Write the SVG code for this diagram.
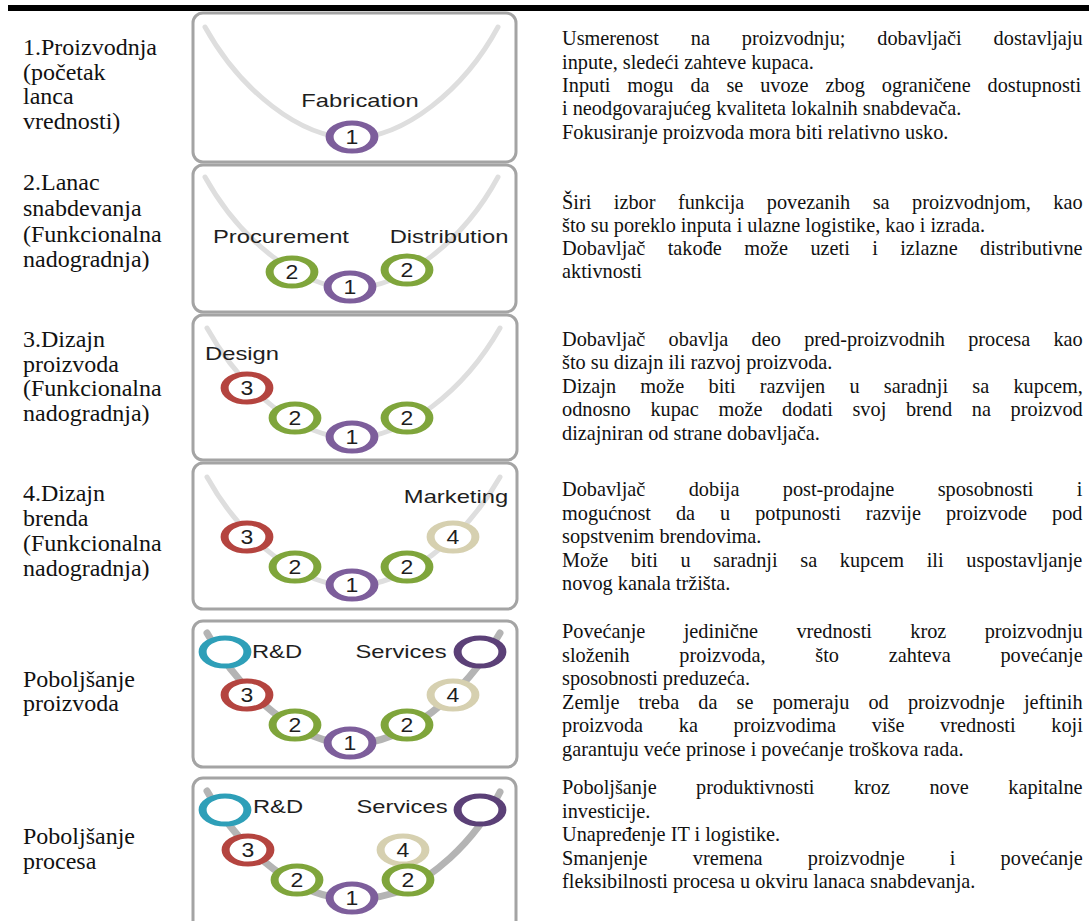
<svg xmlns="http://www.w3.org/2000/svg" xmlns:xlink="http://www.w3.org/1999/xlink" width="1089" height="921" viewBox="0 0 1089 921">
<style>
.lt{font-family:"Liberation Serif","Times New Roman",serif;font-size:24px;fill:#111}
.rt{font-family:"Liberation Serif","Times New Roman",serif;font-size:20.3px;fill:#111}
.lab{font-family:"Liberation Sans",Arial,Helvetica,sans-serif;font-size:19px;fill:#1e1e1e;text-anchor:middle}
.dg{font-family:"Liberation Sans",Arial,Helvetica,sans-serif;font-size:20px;fill:#1e1e1e;text-anchor:middle}
.panel{fill:#fff;stroke:#a4a4a4;stroke-width:3}
.cl{fill:none;stroke:#dedede;stroke-width:5;stroke-linecap:round}
.cd{fill:none;stroke:#b4b4b4;stroke-width:7;stroke-linecap:round}
.c1{stroke:#7d5e9b}.c2{stroke:#7fa53b}.c3{stroke:#b4443f}.c4{stroke:#d6d0b0}.c5{stroke:#2e9fb8}.c6{stroke:#5b4077}
</style>
<defs>
<circle id="ring" r="14" fill="#fff" stroke-width="5"/>
</defs>
<rect x="8" y="5" width="1081" height="6" fill="#000"/>

<g id="row1">
<text class="lt"><tspan x="23" y="55">1.Proizvodnja</tspan><tspan x="23" y="80">(početak</tspan><tspan x="23" y="104">lanca</tspan><tspan x="23" y="129">vrednosti)</tspan></text>
<g id="panel1">
<rect class="panel" x="193" y="13" width="323" height="149" rx="10"/>
<path class="cl" d="M205,27 C240,90 300,138 352,138 C404,138 464,90 498,27"/>
<text class="lab" transform="translate(360,107) scale(1.25,1)">Fabrication</text>
<use href="#ring" class="c1" transform="translate(352,137) scale(1.6,1)"/>
<text class="dg" transform="translate(352,144) scale(1.15,1)">1</text>
</g>
<text class="rt"><tspan x="562" y="45" word-spacing="26.8">Usmerenost na proizvodnju; dobavljači dostavljaju</tspan><tspan x="562" y="68.5">inpute, sledeći zahteve kupaca.</tspan><tspan x="562" y="92" word-spacing="11.8">Inputi mogu da se uvoze zbog ograničene dostupnosti</tspan><tspan x="562" y="115">i neodgovarajućeg kvaliteta lokalnih snabdevača.</tspan><tspan x="562" y="138.5">Fokusiranje proizvoda mora biti relativno usko.</tspan></text>
</g>

<g id="row2">
<text class="lt"><tspan x="23" y="190">2.Lanac</tspan><tspan x="23" y="216">snabdevanja</tspan><tspan x="23" y="242">(Funkcionalna</tspan><tspan x="23" y="267">nadogradnja)</tspan></text>
<g id="panel2">
<rect class="panel" x="193" y="165" width="323" height="147" rx="10"/>
<path class="cl" d="M205,177 C240,240 300,288 352,288 C404,288 464,240 498,177"/>
<text class="lab" transform="translate(281,243) scale(1.25,1)">Procurement</text>
<text class="lab" transform="translate(449,243) scale(1.25,1)">Distribution</text>
<use href="#ring" class="c2" transform="translate(292,272) scale(1.6,1)"/>
<text class="dg" transform="translate(292,279) scale(1.15,1)">2</text>
<use href="#ring" class="c2" transform="translate(407,270) scale(1.6,1)"/>
<text class="dg" transform="translate(407,277) scale(1.15,1)">2</text>
<use href="#ring" class="c1" transform="translate(350,287) scale(1.6,1)"/>
<text class="dg" transform="translate(350,294) scale(1.15,1)">1</text>
</g>
<text class="rt"><tspan x="562" y="209" word-spacing="17.4">Širi izbor funkcija povezanih sa proizvodnjom, kao</tspan><tspan x="562" y="232">što su poreklo inputa i ulazne logistike, kao i izrada.</tspan><tspan x="562" y="255" word-spacing="17.3">Dobavljač takođe može uzeti i izlazne distributivne</tspan><tspan x="562" y="278">aktivnosti</tspan></text>
</g>

<g id="row3">
<text class="lt"><tspan x="23" y="347">3.Dizajn</tspan><tspan x="23" y="372">proizvoda</tspan><tspan x="23" y="396">(Funkcionalna</tspan><tspan x="23" y="421">nadogradnja)</tspan></text>
<g id="panel3">
<rect class="panel" x="193" y="315" width="324" height="145" rx="10"/>
<path class="cl" d="M207,328 C242,391 300,438 352,438 C404,438 464,391 500,328"/>
<text class="lab" transform="translate(242,360) scale(1.25,1)">Design</text>
<use href="#ring" class="c3" transform="translate(247,388) scale(1.6,1)"/>
<text class="dg" transform="translate(247,395) scale(1.15,1)">3</text>
<use href="#ring" class="c2" transform="translate(295,418) scale(1.6,1)"/>
<text class="dg" transform="translate(295,425) scale(1.15,1)">2</text>
<use href="#ring" class="c2" transform="translate(407,418) scale(1.6,1)"/>
<text class="dg" transform="translate(407,425) scale(1.15,1)">2</text>
<use href="#ring" class="c1" transform="translate(352,437) scale(1.6,1)"/>
<text class="dg" transform="translate(352,444) scale(1.15,1)">1</text>
</g>
<text class="rt"><tspan x="562" y="345.5" word-spacing="18.2">Dobavljač obavlja deo pred-proizvodnih procesa kao</tspan><tspan x="562" y="369">što su dizajn ili razvoj proizvoda.</tspan><tspan x="562" y="392.5" word-spacing="19.2">Dizajn može biti razvijen u saradnji sa kupcem,</tspan><tspan x="562" y="416" word-spacing="14.6">odnosno kupac može dodati svoj brend na proizvod</tspan><tspan x="562" y="439.5">dizajniran od strane dobavljača.</tspan></text>
</g>

<g id="row4">
<text class="lt"><tspan x="23" y="501">4.Dizajn</tspan><tspan x="23" y="526">brenda</tspan><tspan x="23" y="551">(Funkcionalna</tspan><tspan x="23" y="576">nadogradnja)</tspan></text>
<g id="panel4">
<rect class="panel" x="193" y="463" width="324" height="146" rx="10"/>
<path class="cl" d="M207,477 C242,540 300,586 352,586 C404,586 464,540 500,477"/>
<text class="lab" transform="translate(456,503) scale(1.25,1)">Marketing</text>
<use href="#ring" class="c3" transform="translate(247,537) scale(1.6,1)"/>
<text class="dg" transform="translate(247,544) scale(1.15,1)">3</text>
<use href="#ring" class="c4" transform="translate(453,537) scale(1.6,1)"/>
<text class="dg" transform="translate(453,544) scale(1.15,1)">4</text>
<use href="#ring" class="c2" transform="translate(295,567) scale(1.6,1)"/>
<text class="dg" transform="translate(295,574) scale(1.15,1)">2</text>
<use href="#ring" class="c2" transform="translate(407,567) scale(1.6,1)"/>
<text class="dg" transform="translate(407,574) scale(1.15,1)">2</text>
<use href="#ring" class="c1" transform="translate(352,585) scale(1.6,1)"/>
<text class="dg" transform="translate(352,592) scale(1.15,1)">1</text>
</g>
<text class="rt"><tspan x="562" y="496" word-spacing="38.3">Dobavljač dobija post-prodajne sposobnosti i</tspan><tspan x="562" y="519.5" word-spacing="19.9">mogućnost da u potpunosti razvije proizvode pod</tspan><tspan x="562" y="543">sopstvenim brendovima.</tspan><tspan x="562" y="566.5" word-spacing="17.6">Može biti u saradnji sa kupcem ili uspostavljanje</tspan><tspan x="562" y="590">novog kanala tržišta.</tspan></text>
</g>

<g id="row5">
<text class="lt"><tspan x="23" y="687">Poboljšanje</tspan><tspan x="23" y="711">proizvoda</tspan></text>
<g id="panel5">
<rect class="panel" x="193" y="621" width="324" height="146" rx="10"/>
<path class="cd" d="M207,633 C242,696 300,744 352,744 C404,744 464,696 500,633"/>
<text class="lab" transform="translate(277,658) scale(1.25,1)">R&amp;D</text>
<text class="lab" transform="translate(401,658) scale(1.25,1)">Services</text>
<use href="#ring" class="c5" transform="translate(225,652) scale(1.6,1)"/>
<use href="#ring" class="c6" transform="translate(480,652) scale(1.6,1)"/>
<use href="#ring" class="c3" transform="translate(247,695) scale(1.6,1)"/>
<text class="dg" transform="translate(247,702) scale(1.15,1)">3</text>
<use href="#ring" class="c4" transform="translate(453,695) scale(1.6,1)"/>
<text class="dg" transform="translate(453,702) scale(1.15,1)">4</text>
<use href="#ring" class="c2" transform="translate(295,725) scale(1.6,1)"/>
<text class="dg" transform="translate(295,732) scale(1.15,1)">2</text>
<use href="#ring" class="c2" transform="translate(407,725) scale(1.6,1)"/>
<text class="dg" transform="translate(407,732) scale(1.15,1)">2</text>
<use href="#ring" class="c1" transform="translate(350,743) scale(1.6,1)"/>
<text class="dg" transform="translate(350,750) scale(1.15,1)">1</text>
</g>
<text class="rt"><tspan x="562" y="638" word-spacing="33.3">Povećanje jedinične vrednosti kroz proizvodnju</tspan><tspan x="562" y="661.5" word-spacing="44.7">složenih proizvoda, što zahteva povećanje</tspan><tspan x="562" y="685">sposobnosti preduzeća.</tspan><tspan x="562" y="708.5" word-spacing="14.1">Zemlje treba da se pomeraju od proizvodnje jeftinih</tspan><tspan x="562" y="732" word-spacing="30.6">proizvoda ka proizvodima više vrednosti koji</tspan><tspan x="562" y="755.5">garantuju veće prinose i povećanje troškova rada.</tspan></text>
</g>

<g id="row6">
<text class="lt"><tspan x="23" y="844">Poboljšanje</tspan><tspan x="23" y="869">procesa</tspan></text>
<g id="panel6">
<rect class="panel" x="193" y="778" width="323" height="160" rx="10"/>
<path class="cd" d="M207,791 C242,854 300,899 352,899 C395,899 420,885 450,858 C475,835 490,812 500,792"/>
<text class="lab" transform="translate(278,813) scale(1.25,1)">R&amp;D</text>
<text class="lab" transform="translate(402,813) scale(1.25,1)">Services</text>
<use href="#ring" class="c5" transform="translate(225,810) scale(1.6,1)"/>
<use href="#ring" class="c6" transform="translate(480,810) scale(1.6,1)"/>
<use href="#ring" class="c3" transform="translate(248,850) scale(1.6,1)"/>
<text class="dg" transform="translate(248,857) scale(1.15,1)">3</text>
<use href="#ring" class="c4" transform="translate(403,850) scale(1.6,1)"/>
<text class="dg" transform="translate(403,857) scale(1.15,1)">4</text>
<use href="#ring" class="c2" transform="translate(297,880) scale(1.6,1)"/>
<text class="dg" transform="translate(297,887) scale(1.15,1)">2</text>
<use href="#ring" class="c2" transform="translate(408,880) scale(1.6,1)"/>
<text class="dg" transform="translate(408,887) scale(1.15,1)">2</text>
<use href="#ring" class="c1" transform="translate(352,898) scale(1.6,1)"/>
<text class="dg" transform="translate(352,905) scale(1.15,1)">1</text>
</g>
<text class="rt"><tspan x="562" y="794" word-spacing="34.4">Poboljšanje produktivnosti kroz nove kapitalne</tspan><tspan x="562" y="817.5">investicije.</tspan><tspan x="562" y="841">Unapređenje IT i logistike.</tspan><tspan x="562" y="864.5" word-spacing="40.1">Smanjenje vremena proizvodnje i povećanje</tspan><tspan x="562" y="888">fleksibilnosti procesa u okviru lanaca snabdevanja.</tspan></text>
</g>
</svg>
